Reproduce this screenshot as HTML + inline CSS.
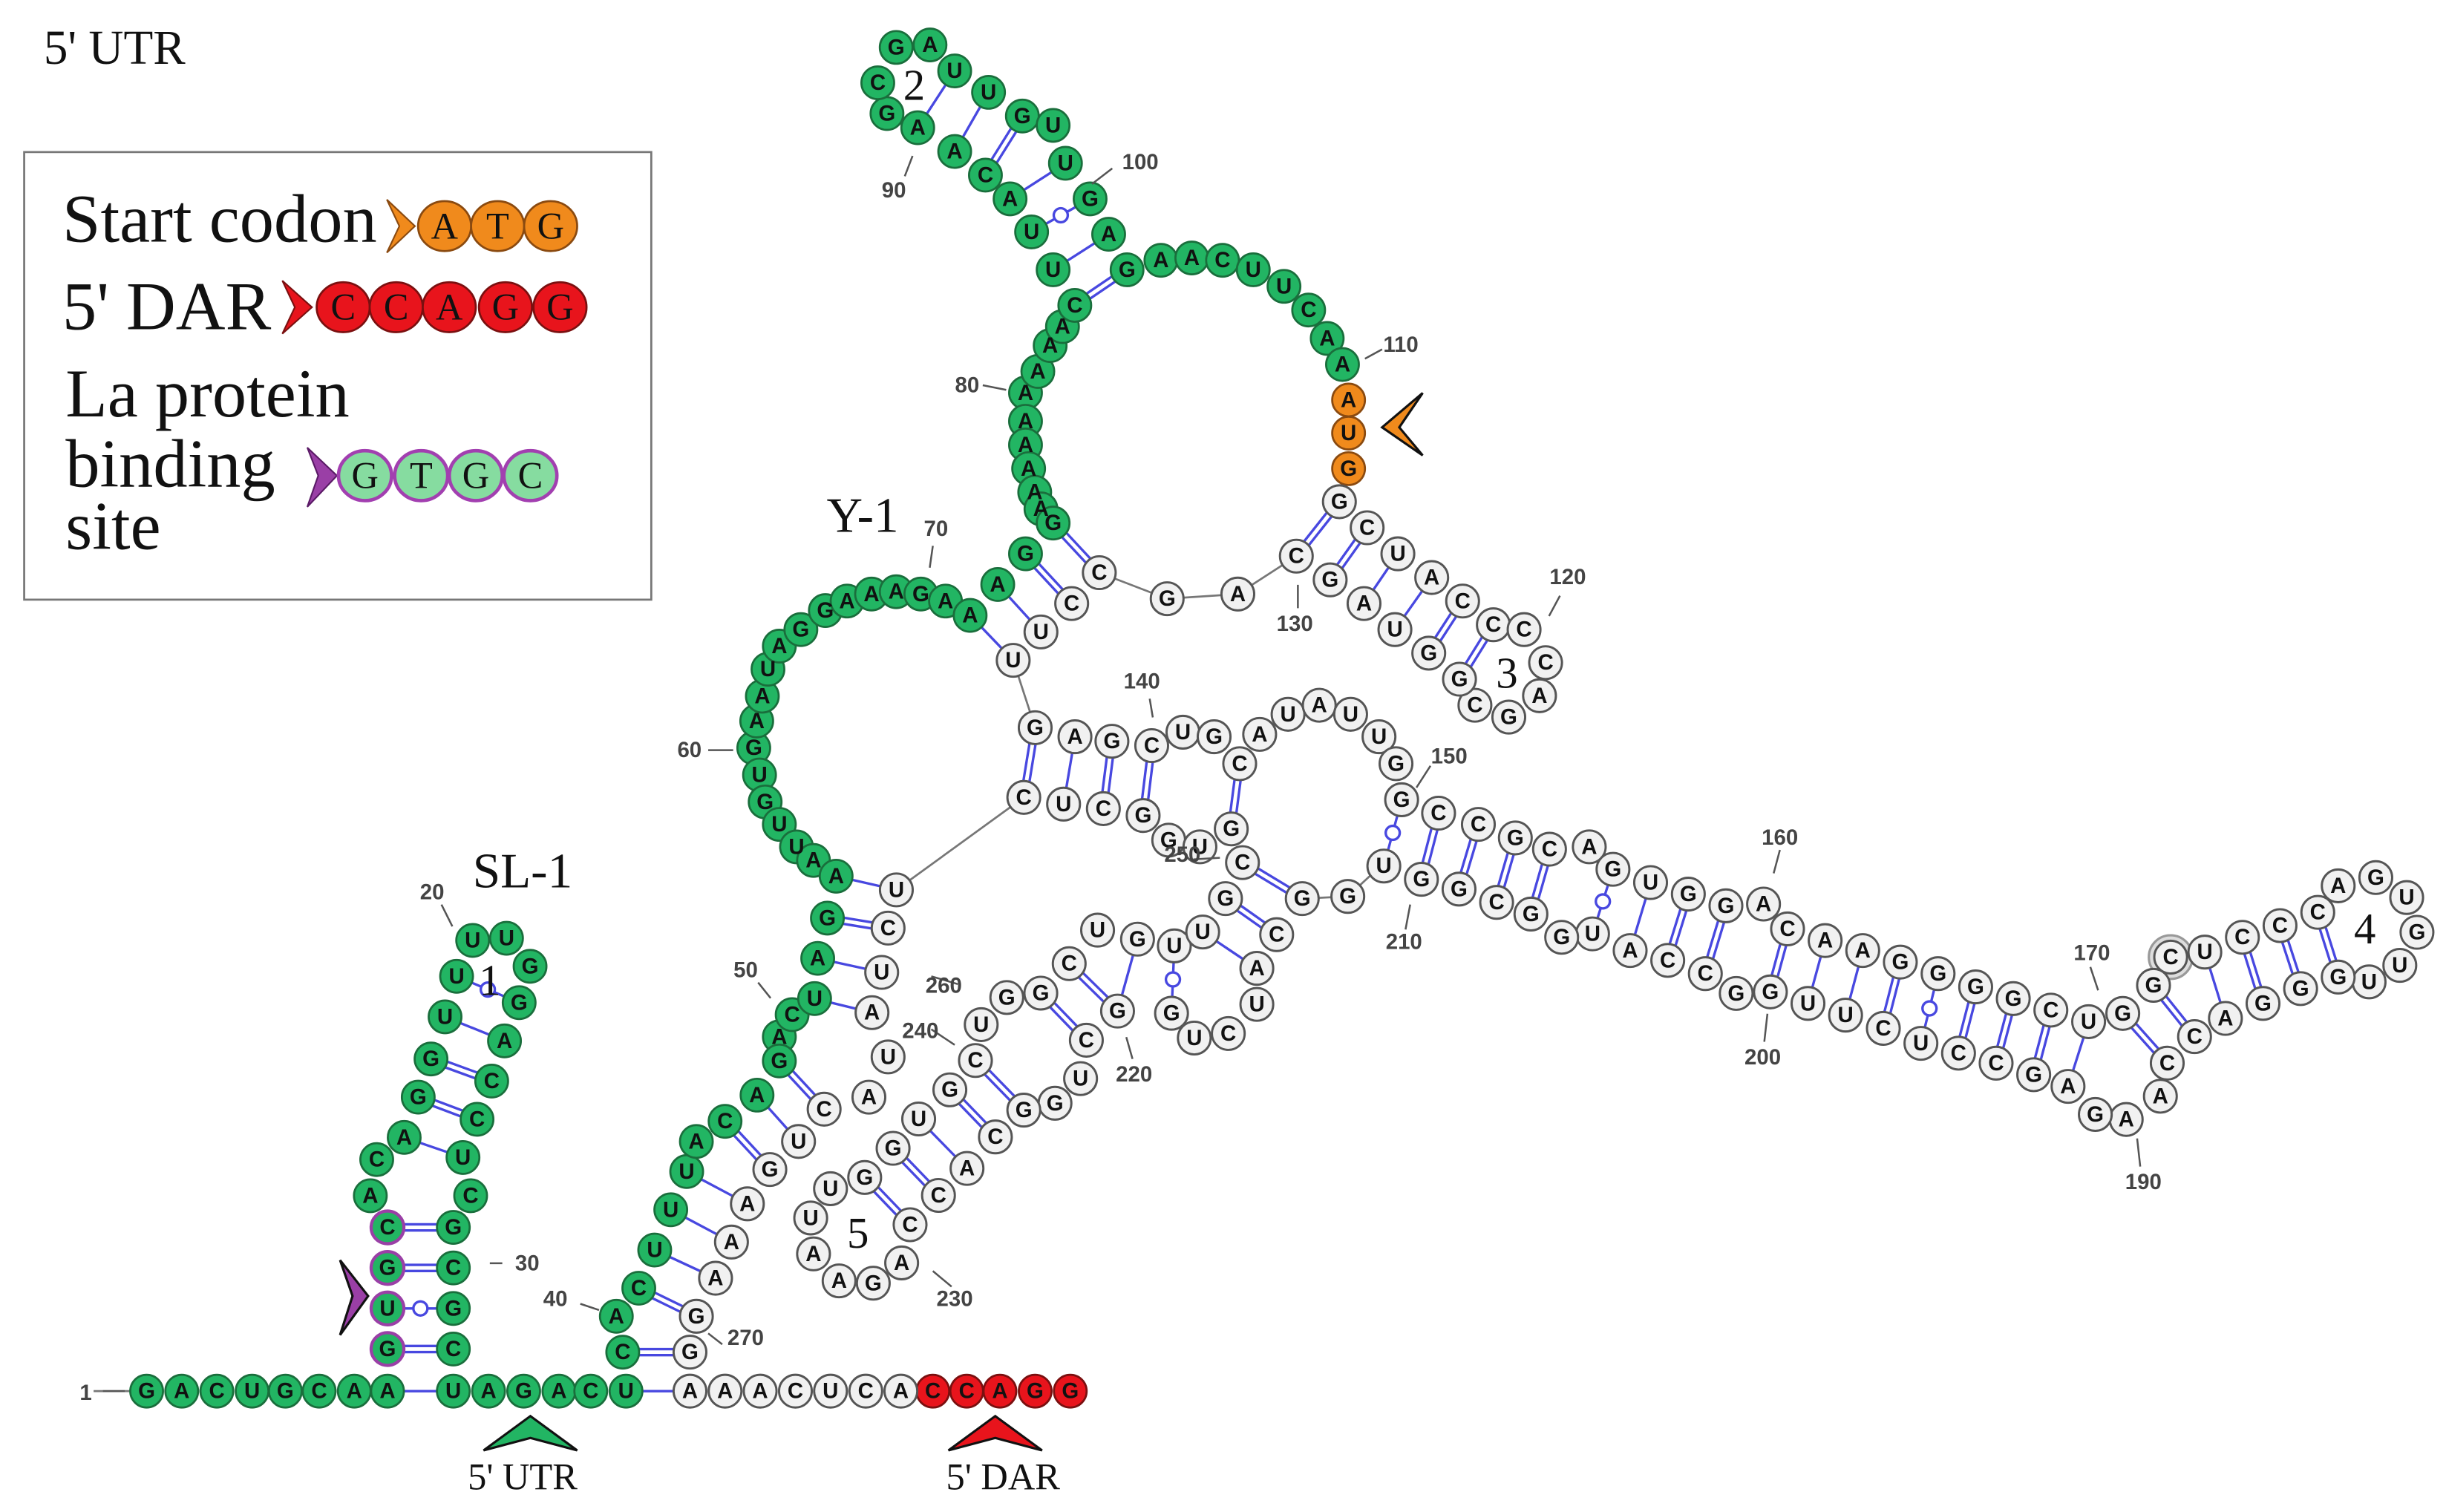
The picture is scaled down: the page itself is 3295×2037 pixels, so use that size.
<!DOCTYPE html>
<html><head><meta charset="utf-8"><style>
html,body{margin:0;padding:0;background:#fff}
svg{display:block}
.g circle,.g ellipse{fill:#22b563;stroke:#1a6e3c;stroke-width:1.3}
.w circle{fill:#f1f1f1;stroke:#555;stroke-width:1.4}
.o circle,.o ellipse{fill:#f08a1c;stroke:#8a4a10;stroke-width:1.3}
.r circle,.r ellipse{fill:#e8141c;stroke:#7a1010;stroke-width:1.3}
.p circle{fill:#22b563;stroke:#9a3fa6;stroke-width:2}
.lp ellipse{fill:#86dca0;stroke:#a23fb0;stroke-width:2.2}
.t text{font-family:"Liberation Sans",Arial,sans-serif;font-weight:bold;font-size:14px;text-anchor:middle;dominant-baseline:central;fill:#111}
.n text{font-family:"Liberation Sans",Arial,sans-serif;font-weight:bold;font-size:14px;text-anchor:middle;dominant-baseline:central;fill:#444}
.s text,.big{font-family:"Liberation Serif","Times New Roman",serif;fill:#111}
.pd{stroke:#4848e0;stroke-width:5.5;fill:none}
.pdw{stroke:#fff;stroke-width:2.3;fill:none}
.ps{stroke:#4848e0;stroke-width:1.6;fill:none}
.bb{stroke:#777;stroke-width:1.3;fill:none}
.tk{stroke:#555;stroke-width:1.2;fill:none}
</style></head><body>
<svg width="3295" height="2037" viewBox="0 0 1568 969.5" preserveAspectRatio="none" xmlns="http://www.w3.org/2000/svg">
<path class="bb" d="M649.5,423.4 L663.6,466.6 M656.3,511.3 L574.6,570.6 M704.7,367.2 L748.2,383.9 L793.5,380.9 L831,356.6 M864,574.8 L885.8,554.6 M834.8,576.2 L864,574.8 M60,892 L84,892"/>
<path class="pd" d="M248.4,787L290.6,787M248.4,813L290.6,813M248.4,865L290.6,865M268.1,703.5L305.8,717.7M276.3,679L315.2,693.2M399.2,867L442.3,867M409.5,826L446.4,844M464.8,719L493.5,749.9M499.6,680.3L528.3,711.2M530.4,588.7L569.3,595.1M675.1,335.4L704.7,367.2M657.4,355.1L687,387M689,195.8L722.5,173M631.7,112.3L655.4,74.4M858.6,321.7L831,356.6M876.4,338.4L852.7,371.8M937.6,385.4L915.9,418.8M957.3,400.6L935.6,435.5M663.6,466.6L656.3,511.3M712.8,475.3L707.3,518.5M738.3,478.1L732.8,522.9M794.7,489.7L789.3,531.5M922.2,521.4L911.2,563.8M947.7,528.6L935.3,570.1M971.4,537.3L959.4,578.6M993.3,544.5L981.4,586.1M1082.3,573.3L1069.1,615.8M1106.4,580.8L1093.2,624.3M1145.9,595.6L1134.9,636M1218.2,616.9L1207.3,659.4M1266.5,632.8L1255.5,675.3M1290.6,640.3L1279.6,681.7M1314.7,647.7L1303.7,689.1M1360.8,649.8L1389.3,681.7M1380.5,631.8L1406.8,664.7M1437.5,601L1450.7,643.4M1461.6,593.5L1474.8,633.9M1485.8,585L1498.9,626.5M796.5,553.1L834.8,576.2M785.6,576.2L818.4,599.3M667.2,636.8L696.4,667M685.4,617.9L716.4,648.3M625.3,680L656.3,711.8M608.9,698.8L638.1,729M572.5,736.3L601.6,766.5M554.3,755L583.4,785.3"/>
<path class="pdw" d="M248.4,787L290.6,787M248.4,813L290.6,813M248.4,865L290.6,865M268.1,703.5L305.8,717.7M276.3,679L315.2,693.2M399.2,867L442.3,867M409.5,826L446.4,844M464.8,719L493.5,749.9M499.6,680.3L528.3,711.2M530.4,588.7L569.3,595.1M675.1,335.4L704.7,367.2M657.4,355.1L687,387M689,195.8L722.5,173M631.7,112.3L655.4,74.4M858.6,321.7L831,356.6M876.4,338.4L852.7,371.8M937.6,385.4L915.9,418.8M957.3,400.6L935.6,435.5M663.6,466.6L656.3,511.3M712.8,475.3L707.3,518.5M738.3,478.1L732.8,522.9M794.7,489.7L789.3,531.5M922.2,521.4L911.2,563.8M947.7,528.6L935.3,570.1M971.4,537.3L959.4,578.6M993.3,544.5L981.4,586.1M1082.3,573.3L1069.1,615.8M1106.4,580.8L1093.2,624.3M1145.9,595.6L1134.9,636M1218.2,616.9L1207.3,659.4M1266.5,632.8L1255.5,675.3M1290.6,640.3L1279.6,681.7M1314.7,647.7L1303.7,689.1M1360.8,649.8L1389.3,681.7M1380.5,631.8L1406.8,664.7M1437.5,601L1450.7,643.4M1461.6,593.5L1474.8,633.9M1485.8,585L1498.9,626.5M796.5,553.1L834.8,576.2M785.6,576.2L818.4,599.3M667.2,636.8L696.4,667M685.4,617.9L716.4,648.3M625.3,680L656.3,711.8M608.9,698.8L638.1,729M572.5,736.3L601.6,766.5M554.3,755L583.4,785.3"/>
<path class="ps" d="M248.4,892L290.6,892M401.3,892L442.3,892M259.1,729.3L296.8,742.2M285.3,652L323.4,667.4M419.7,801.5L458.7,819.6M430,775.7L468.9,796.4M440.2,751.2L479.1,771.9M485.3,702.2L511.9,731.9M522.2,640.3L559,649.3M524.2,614.5L565.2,623.5M536,561.8L574.6,570.6M639.6,374.8L667.3,405.2M621.9,394.6L649.5,423.4M675.1,173L710.7,150.2M647.5,127.5L683,104.7M612,97.1L633.7,59.2M588.3,81.9L612,45.5M896.1,355.1L874.4,387M917.8,370.3L894.2,403.7M689.1,472.4L681.8,515.6M1058.1,565.9L1045,609.5M1170,603.1L1159,643.4M1194.1,609.5L1183.1,650.9M1338.9,655.1L1325.7,696.6M1413.4,610.5L1426.6,653M771,597.6L805.7,620.9M588.9,717.5L619.9,749.2M729.2,602.2L716.4,648.3
M248.4,839L290.6,839M292.7,626L332.8,642.9M661.3,148.7L698.8,127.5M898.5,512.8L887.1,555.3M1034,557.4L1020.9,598.8M1242.4,624.3L1231.4,669M752.8,606.5L751,649.7"/>
<g fill="#fff" stroke="#4848e0" stroke-width="1.6">
<circle cx="269.5" cy="839" r="4.5"/><circle cx="312.7" cy="634.5" r="4.5"/><circle cx="680" cy="138" r="4.5"/><circle cx="892.8" cy="534" r="4.5"/><circle cx="1027.5" cy="578" r="4.5"/><circle cx="1236.9" cy="646.6" r="4.5"/><circle cx="751.9" cy="628" r="4.5"/>
</g>
<g class="g">
<circle cx="94" cy="892" r="10.5"/><circle cx="116.5" cy="892" r="10.5"/><circle cx="139" cy="892" r="10.5"/><circle cx="161.6" cy="892" r="10.5"/><circle cx="182.9" cy="892" r="10.5"/><circle cx="204.6" cy="892" r="10.5"/><circle cx="227.1" cy="892" r="10.5"/><circle cx="248.4" cy="892" r="10.5"/><circle cx="290.6" cy="892" r="10.5"/><circle cx="313.2" cy="892" r="10.5"/><circle cx="335.7" cy="892" r="10.5"/><circle cx="358.3" cy="892" r="10.5"/><circle cx="378.7" cy="892" r="10.5"/><circle cx="401.3" cy="892" r="10.5"/>
<circle cx="237.4" cy="766.7" r="10.5"/><circle cx="241.5" cy="743.5" r="10.5"/><circle cx="259.1" cy="729.3" r="10.5"/><circle cx="268.1" cy="703.5" r="10.5"/><circle cx="276.3" cy="679" r="10.5"/><circle cx="285.3" cy="652" r="10.5"/><circle cx="292.7" cy="626" r="10.5"/><circle cx="303" cy="603" r="10.5"/><circle cx="324.7" cy="601.6" r="10.5"/><circle cx="339.8" cy="619.6" r="10.5"/><circle cx="332.8" cy="642.9" r="10.5"/><circle cx="323.4" cy="667.4" r="10.5"/><circle cx="315.2" cy="693.2" r="10.5"/><circle cx="305.8" cy="717.7" r="10.5"/><circle cx="296.8" cy="742.2" r="10.5"/><circle cx="301.7" cy="766.7" r="10.5"/><circle cx="290.6" cy="787" r="10.5"/><circle cx="290.6" cy="813" r="10.5"/><circle cx="290.6" cy="839" r="10.5"/><circle cx="290.6" cy="865" r="10.5"/>
<circle cx="399.2" cy="867" r="10.5"/><circle cx="395.1" cy="844" r="10.5"/><circle cx="409.5" cy="826" r="10.5"/><circle cx="419.7" cy="801.5" r="10.5"/><circle cx="430" cy="775.7" r="10.5"/><circle cx="440.2" cy="751.2" r="10.5"/><circle cx="446.4" cy="731.9" r="10.5"/><circle cx="464.8" cy="719" r="10.5"/><circle cx="485.3" cy="702.2" r="10.5"/><circle cx="499.6" cy="664.8" r="10.5"/><circle cx="499.6" cy="680.3" r="10.5"/><circle cx="507.8" cy="650.6" r="10.5"/><circle cx="522.2" cy="640.3" r="10.5"/><circle cx="524.2" cy="614.5" r="10.5"/><circle cx="530.4" cy="588.7" r="10.5"/>
<circle cx="483.2" cy="479.6" r="10.5"/><circle cx="486.9" cy="496.9" r="10.5"/><circle cx="490.5" cy="514.2" r="10.5"/><circle cx="499.6" cy="528.6" r="10.5"/><circle cx="510.6" cy="543" r="10.5"/><circle cx="521.5" cy="551.7" r="10.5"/><circle cx="536" cy="561.8" r="10.5"/>
<circle cx="485.1" cy="462.3" r="10.5"/><circle cx="488.7" cy="446.4" r="10.5"/><circle cx="492.3" cy="429.1" r="10.5"/><circle cx="499.6" cy="414.3" r="10.5"/><circle cx="513.4" cy="403.7" r="10.5"/><circle cx="529.1" cy="391.5" r="10.5"/><circle cx="543" cy="385.4" r="10.5"/><circle cx="558.7" cy="380.9" r="10.5"/><circle cx="574.5" cy="379.4" r="10.5"/><circle cx="590.3" cy="380.9" r="10.5"/><circle cx="606.1" cy="385.4" r="10.5"/><circle cx="621.9" cy="394.6" r="10.5"/><circle cx="639.6" cy="374.8" r="10.5"/><circle cx="657.4" cy="355.1" r="10.5"/>
<circle cx="657.4" cy="251.9" r="10.5"/><circle cx="657.4" cy="270.1" r="10.5"/><circle cx="657.4" cy="285.3" r="10.5"/><circle cx="659.4" cy="300.5" r="10.5"/><circle cx="663.3" cy="315.6" r="10.5"/><circle cx="667.3" cy="326.3" r="10.5"/><circle cx="675.1" cy="335.4" r="10.5"/>
<circle cx="665.3" cy="238.2" r="10.5"/><circle cx="673.2" cy="221.6" r="10.5"/><circle cx="681.1" cy="209.4" r="10.5"/><circle cx="689" cy="195.8" r="10.5"/><circle cx="675.1" cy="173" r="10.5"/><circle cx="661.3" cy="148.7" r="10.5"/><circle cx="647.5" cy="127.5" r="10.5"/><circle cx="631.7" cy="112.3" r="10.5"/><circle cx="612" cy="97.1" r="10.5"/><circle cx="588.3" cy="81.9" r="10.5"/><circle cx="568.6" cy="72.8" r="10.5"/><circle cx="562.7" cy="53.1" r="10.5"/><circle cx="574.5" cy="30.4" r="10.5"/><circle cx="596.2" cy="28.8" r="10.5"/><circle cx="612" cy="45.5" r="10.5"/><circle cx="633.7" cy="59.2" r="10.5"/><circle cx="655.4" cy="74.4" r="10.5"/><circle cx="675.1" cy="80.4" r="10.5"/><circle cx="683" cy="104.7" r="10.5"/><circle cx="698.8" cy="127.5" r="10.5"/><circle cx="710.7" cy="150.2" r="10.5"/><circle cx="722.5" cy="173" r="10.5"/><circle cx="744.2" cy="166.9" r="10.5"/><circle cx="764" cy="165.4" r="10.5"/><circle cx="783.7" cy="166.9" r="10.5"/><circle cx="803.4" cy="173" r="10.5"/><circle cx="823.1" cy="183.6" r="10.5"/><circle cx="838.9" cy="198.8" r="10.5"/><circle cx="850.8" cy="217" r="10.5"/><circle cx="860.6" cy="233.7" r="10.5"/>
</g>
<g class="p"><circle cx="248.4" cy="787" r="10.5"/><circle cx="248.4" cy="813" r="10.5"/><circle cx="248.4" cy="839" r="10.5"/><circle cx="248.4" cy="865" r="10.5"/></g>
<g class="o"><circle cx="864.5" cy="256.5" r="10.5"/><circle cx="864.5" cy="277.7" r="10.5"/><circle cx="864.5" cy="300.5" r="10.5"/></g>
<g class="r"><circle cx="598" cy="892" r="10.5"/><circle cx="619.7" cy="892" r="10.5"/><circle cx="641" cy="892" r="10.5"/><circle cx="663.6" cy="892" r="10.5"/><circle cx="686.1" cy="892" r="10.5"/></g>
<circle cx="1391.5" cy="613.7" r="14" fill="#ddd" stroke="#999" stroke-width="1.5"/>
<g class="w">
<circle cx="442.3" cy="892" r="10.5"/><circle cx="464.8" cy="892" r="10.5"/><circle cx="487.3" cy="892" r="10.5"/><circle cx="509.9" cy="892" r="10.5"/><circle cx="532.4" cy="892" r="10.5"/><circle cx="555" cy="892" r="10.5"/><circle cx="577.5" cy="892" r="10.5"/>
<circle cx="442.3" cy="867" r="10.5"/><circle cx="446.4" cy="844" r="10.5"/><circle cx="458.7" cy="819.6" r="10.5"/><circle cx="468.9" cy="796.4" r="10.5"/><circle cx="479.1" cy="771.9" r="10.5"/><circle cx="493.5" cy="749.9" r="10.5"/><circle cx="511.9" cy="731.9" r="10.5"/><circle cx="528.3" cy="711.2" r="10.5"/><circle cx="557" cy="703.5" r="10.5"/><circle cx="569.3" cy="677.7" r="10.5"/><circle cx="559" cy="649.3" r="10.5"/><circle cx="565.2" cy="623.5" r="10.5"/><circle cx="569.3" cy="595.1" r="10.5"/><circle cx="574.6" cy="570.6" r="10.5"/>
<circle cx="858.6" cy="321.7" r="10.5"/><circle cx="876.4" cy="338.4" r="10.5"/><circle cx="896.1" cy="355.1" r="10.5"/><circle cx="917.8" cy="370.3" r="10.5"/><circle cx="937.6" cy="385.4" r="10.5"/><circle cx="957.3" cy="400.6" r="10.5"/><circle cx="977" cy="403.7" r="10.5"/><circle cx="990.8" cy="424.9" r="10.5"/><circle cx="986.9" cy="446.1" r="10.5"/><circle cx="967.2" cy="459.8" r="10.5"/><circle cx="945.5" cy="452.2" r="10.5"/><circle cx="935.6" cy="435.5" r="10.5"/><circle cx="915.9" cy="418.8" r="10.5"/><circle cx="894.2" cy="403.7" r="10.5"/><circle cx="874.4" cy="387" r="10.5"/><circle cx="852.7" cy="371.8" r="10.5"/><circle cx="831" cy="356.6" r="10.5"/><circle cx="793.5" cy="380.9" r="10.5"/><circle cx="748.2" cy="383.9" r="10.5"/><circle cx="704.7" cy="367.2" r="10.5"/><circle cx="687" cy="387" r="10.5"/><circle cx="667.3" cy="405.2" r="10.5"/><circle cx="649.5" cy="423.4" r="10.5"/>
<circle cx="663.6" cy="466.6" r="10.5"/><circle cx="689.1" cy="472.4" r="10.5"/><circle cx="712.8" cy="475.3" r="10.5"/><circle cx="738.3" cy="478.1" r="10.5"/><circle cx="758.3" cy="469.5" r="10.5"/><circle cx="778.3" cy="472.4" r="10.5"/><circle cx="807.5" cy="470.9" r="10.5"/><circle cx="825.7" cy="458" r="10.5"/><circle cx="845.7" cy="452.2" r="10.5"/><circle cx="865.8" cy="458" r="10.5"/><circle cx="884" cy="472.4" r="10.5"/><circle cx="894.9" cy="489.7" r="10.5"/><circle cx="898.5" cy="512.8" r="10.5"/><circle cx="794.7" cy="489.7" r="10.5"/><circle cx="656.3" cy="511.3" r="10.5"/><circle cx="681.8" cy="515.6" r="10.5"/><circle cx="707.3" cy="518.5" r="10.5"/><circle cx="732.8" cy="522.9" r="10.5"/><circle cx="749.2" cy="538.7" r="10.5"/><circle cx="769.2" cy="543" r="10.5"/><circle cx="789.3" cy="531.5" r="10.5"/><circle cx="796.5" cy="553.1" r="10.5"/><circle cx="834.8" cy="576.2" r="10.5"/><circle cx="864" cy="574.8" r="10.5"/>
<circle cx="922.2" cy="521.4" r="10.5"/><circle cx="947.7" cy="528.6" r="10.5"/><circle cx="971.4" cy="537.3" r="10.5"/><circle cx="993.3" cy="544.5" r="10.5"/><circle cx="1018.8" cy="543" r="10.5"/><circle cx="1034" cy="557.4" r="10.5"/><circle cx="1058.1" cy="565.9" r="10.5"/><circle cx="1082.3" cy="573.3" r="10.5"/><circle cx="1106.4" cy="580.8" r="10.5"/><circle cx="1130.5" cy="579.7" r="10.5"/><circle cx="1145.9" cy="595.6" r="10.5"/><circle cx="1170" cy="603.1" r="10.5"/><circle cx="1194.1" cy="609.5" r="10.5"/><circle cx="1218.2" cy="616.9" r="10.5"/><circle cx="1242.4" cy="624.3" r="10.5"/><circle cx="1266.5" cy="632.8" r="10.5"/><circle cx="1290.6" cy="640.3" r="10.5"/><circle cx="1314.7" cy="647.7" r="10.5"/><circle cx="1338.9" cy="655.1" r="10.5"/><circle cx="1360.8" cy="649.8" r="10.5"/><circle cx="1380.5" cy="631.8" r="10.5"/><circle cx="1391.5" cy="613.7" r="10.5"/><circle cx="1413.4" cy="610.5" r="10.5"/><circle cx="1437.5" cy="601" r="10.5"/><circle cx="1461.6" cy="593.5" r="10.5"/><circle cx="1485.8" cy="585" r="10.5"/><circle cx="1498.9" cy="568" r="10.5"/><circle cx="1523" cy="562.7" r="10.5"/><circle cx="1542.8" cy="575.5" r="10.5"/><circle cx="1549.4" cy="597.8" r="10.5"/><circle cx="1538.4" cy="619" r="10.5"/><circle cx="1518.7" cy="629.6" r="10.5"/><circle cx="1498.9" cy="626.5" r="10.5"/><circle cx="1474.8" cy="633.9" r="10.5"/><circle cx="1450.7" cy="643.4" r="10.5"/><circle cx="1426.6" cy="653" r="10.5"/><circle cx="1406.8" cy="664.7" r="10.5"/><circle cx="1389.3" cy="681.7" r="10.5"/><circle cx="1384.9" cy="702.9" r="10.5"/><circle cx="1363" cy="717.8" r="10.5"/><circle cx="1343.2" cy="714.6" r="10.5"/><circle cx="1325.7" cy="696.6" r="10.5"/><circle cx="1303.7" cy="689.1" r="10.5"/><circle cx="1279.6" cy="681.7" r="10.5"/><circle cx="1255.5" cy="675.3" r="10.5"/><circle cx="1231.4" cy="669" r="10.5"/><circle cx="1207.3" cy="659.4" r="10.5"/><circle cx="1183.1" cy="650.9" r="10.5"/><circle cx="1159" cy="643.4" r="10.5"/><circle cx="1134.9" cy="636" r="10.5"/><circle cx="1113" cy="637" r="10.5"/><circle cx="1093.2" cy="624.3" r="10.5"/><circle cx="1069.1" cy="615.8" r="10.5"/><circle cx="1045" cy="609.5" r="10.5"/><circle cx="1020.9" cy="598.8" r="10.5"/><circle cx="1001.1" cy="601" r="10.5"/><circle cx="981.4" cy="586.1" r="10.5"/><circle cx="959.4" cy="578.6" r="10.5"/><circle cx="935.3" cy="570.1" r="10.5"/><circle cx="911.2" cy="563.8" r="10.5"/><circle cx="887.1" cy="555.3" r="10.5"/>
<circle cx="703.6" cy="596.4" r="10.5"/><circle cx="729.2" cy="602.2" r="10.5"/><circle cx="752.8" cy="606.5" r="10.5"/><circle cx="771" cy="597.6" r="10.5"/><circle cx="785.6" cy="576.2" r="10.5"/><circle cx="818.4" cy="599.3" r="10.5"/><circle cx="805.7" cy="620.9" r="10.5"/><circle cx="805.7" cy="644" r="10.5"/><circle cx="787.4" cy="662.7" r="10.5"/><circle cx="765.6" cy="665.6" r="10.5"/><circle cx="751" cy="649.7" r="10.5"/><circle cx="716.4" cy="648.3" r="10.5"/><circle cx="696.4" cy="667" r="10.5"/><circle cx="692.7" cy="691.6" r="10.5"/><circle cx="676.3" cy="707.4" r="10.5"/><circle cx="656.3" cy="711.8" r="10.5"/><circle cx="638.1" cy="729" r="10.5"/><circle cx="619.9" cy="749.2" r="10.5"/><circle cx="601.6" cy="766.5" r="10.5"/><circle cx="583.4" cy="785.3" r="10.5"/><circle cx="578" cy="809.8" r="10.5"/><circle cx="559.8" cy="822.8" r="10.5"/><circle cx="537.9" cy="821.3" r="10.5"/><circle cx="521.5" cy="804" r="10.5"/><circle cx="519.7" cy="781" r="10.5"/><circle cx="532.4" cy="762.2" r="10.5"/><circle cx="554.3" cy="755" r="10.5"/><circle cx="572.5" cy="736.3" r="10.5"/><circle cx="588.9" cy="717.5" r="10.5"/><circle cx="608.9" cy="698.8" r="10.5"/><circle cx="625.3" cy="680" r="10.5"/><circle cx="629" cy="657" r="10.5"/><circle cx="645.4" cy="639.6" r="10.5"/><circle cx="667.2" cy="636.8" r="10.5"/><circle cx="685.4" cy="617.9" r="10.5"/>
</g>
<g class="t">
<text x="94" y="892">G</text><text x="116.5" y="892">A</text><text x="139" y="892">C</text><text x="161.6" y="892">U</text><text x="182.9" y="892">G</text><text x="204.6" y="892">C</text><text x="227.1" y="892">A</text><text x="248.4" y="892">A</text><text x="290.6" y="892">U</text><text x="313.2" y="892">A</text><text x="335.7" y="892">G</text><text x="358.3" y="892">A</text><text x="378.7" y="892">C</text><text x="401.3" y="892">U</text>
<text x="442.3" y="892">A</text><text x="464.8" y="892">A</text><text x="487.3" y="892">A</text><text x="509.9" y="892">C</text><text x="532.4" y="892">U</text><text x="555" y="892">C</text><text x="577.5" y="892">A</text><text x="598" y="892">C</text><text x="619.7" y="892">C</text><text x="641" y="892">A</text><text x="663.6" y="892">G</text><text x="686.1" y="892">G</text>
<text x="248.4" y="865">G</text><text x="248.4" y="839">U</text><text x="248.4" y="813">G</text><text x="248.4" y="787">C</text>
<text x="237.4" y="766.7">A</text><text x="241.5" y="743.5">C</text><text x="259.1" y="729.3">A</text><text x="268.1" y="703.5">G</text><text x="276.3" y="679">G</text><text x="285.3" y="652">U</text><text x="292.7" y="626">U</text><text x="303" y="603">U</text><text x="324.7" y="601.6">U</text><text x="339.8" y="619.6">G</text><text x="332.8" y="642.9">G</text><text x="323.4" y="667.4">A</text><text x="315.2" y="693.2">C</text><text x="305.8" y="717.7">C</text><text x="296.8" y="742.2">U</text><text x="301.7" y="766.7">C</text><text x="290.6" y="787">G</text><text x="290.6" y="813">C</text><text x="290.6" y="839">G</text><text x="290.6" y="865">C</text>
<text x="399.2" y="867">C</text><text x="395.1" y="844">A</text><text x="409.5" y="826">C</text><text x="419.7" y="801.5">U</text><text x="430" y="775.7">U</text><text x="440.2" y="751.2">U</text><text x="446.4" y="731.9">A</text><text x="464.8" y="719">C</text><text x="485.3" y="702.2">A</text><text x="499.6" y="680.3">G</text><text x="499.6" y="664.8">A</text><text x="507.8" y="650.6">C</text><text x="522.2" y="640.3">U</text><text x="524.2" y="614.5">A</text><text x="530.4" y="588.7">G</text><text x="536" y="561.8">A</text>
<text x="521.5" y="551.7">A</text><text x="510.6" y="543">U</text><text x="499.6" y="528.6">U</text><text x="490.5" y="514.2">G</text><text x="486.9" y="496.9">U</text><text x="483.2" y="479.6">G</text><text x="485.1" y="462.3">A</text><text x="488.7" y="446.4">A</text><text x="492.3" y="429.1">U</text><text x="499.6" y="414.3">A</text><text x="513.4" y="403.7">G</text><text x="529.1" y="391.5">G</text><text x="543" y="385.4">A</text><text x="558.7" y="380.9">A</text><text x="574.5" y="379.4">A</text><text x="590.3" y="380.9">G</text><text x="606.1" y="385.4">A</text><text x="621.9" y="394.6">A</text><text x="639.6" y="374.8">A</text><text x="657.4" y="355.1">G</text>
<text x="675.1" y="335.4">G</text><text x="667.3" y="326.3">A</text><text x="663.3" y="315.6">A</text><text x="659.4" y="300.5">A</text><text x="657.4" y="285.3">A</text><text x="657.4" y="270.1">A</text><text x="657.4" y="251.9">A</text><text x="665.3" y="238.2">A</text><text x="673.2" y="221.6">A</text><text x="681.1" y="209.4">A</text><text x="689" y="195.8">C</text><text x="675.1" y="173">U</text><text x="661.3" y="148.7">U</text><text x="647.5" y="127.5">A</text><text x="631.7" y="112.3">C</text><text x="612" y="97.1">A</text><text x="588.3" y="81.9">A</text><text x="568.6" y="72.8">G</text><text x="562.7" y="53.1">C</text><text x="574.5" y="30.4">G</text><text x="596.2" y="28.8">A</text><text x="612" y="45.5">U</text><text x="633.7" y="59.2">U</text><text x="655.4" y="74.4">G</text><text x="675.1" y="80.4">U</text><text x="683" y="104.7">U</text><text x="698.8" y="127.5">G</text><text x="710.7" y="150.2">A</text><text x="722.5" y="173">G</text><text x="744.2" y="166.9">A</text><text x="764" y="165.4">A</text><text x="783.7" y="166.9">C</text><text x="803.4" y="173">U</text><text x="823.1" y="183.6">U</text><text x="838.9" y="198.8">C</text><text x="850.8" y="217">A</text><text x="860.6" y="233.7">A</text>
<text x="864.5" y="256.5">A</text><text x="864.5" y="277.7">U</text><text x="864.5" y="300.5">G</text>
<text x="442.3" y="867">G</text><text x="446.4" y="844">G</text><text x="458.7" y="819.6">A</text><text x="468.9" y="796.4">A</text><text x="479.1" y="771.9">A</text><text x="493.5" y="749.9">G</text><text x="511.9" y="731.9">U</text><text x="528.3" y="711.2">C</text><text x="557" y="703.5">A</text><text x="569.3" y="677.7">U</text><text x="559" y="649.3">A</text><text x="565.2" y="623.5">U</text><text x="569.3" y="595.1">C</text><text x="574.6" y="570.6">U</text>
<text x="858.6" y="321.7">G</text><text x="876.4" y="338.4">C</text><text x="896.1" y="355.1">U</text><text x="917.8" y="370.3">A</text><text x="937.6" y="385.4">C</text><text x="957.3" y="400.6">C</text><text x="977" y="403.7">C</text><text x="990.8" y="424.9">C</text><text x="986.9" y="446.1">A</text><text x="967.2" y="459.8">G</text><text x="945.5" y="452.2">C</text><text x="935.6" y="435.5">G</text><text x="915.9" y="418.8">G</text><text x="894.2" y="403.7">U</text><text x="874.4" y="387">A</text><text x="852.7" y="371.8">G</text><text x="831" y="356.6">C</text><text x="793.5" y="380.9">A</text><text x="748.2" y="383.9">G</text><text x="704.7" y="367.2">C</text><text x="687" y="387">C</text><text x="667.3" y="405.2">U</text><text x="649.5" y="423.4">U</text>
<text x="663.6" y="466.6">G</text><text x="689.1" y="472.4">A</text><text x="712.8" y="475.3">G</text><text x="738.3" y="478.1">C</text><text x="758.3" y="469.5">U</text><text x="778.3" y="472.4">G</text><text x="807.5" y="470.9">A</text><text x="825.7" y="458">U</text><text x="845.7" y="452.2">A</text><text x="865.8" y="458">U</text><text x="884" y="472.4">U</text><text x="894.9" y="489.7">G</text><text x="898.5" y="512.8">G</text><text x="794.7" y="489.7">C</text><text x="656.3" y="511.3">C</text><text x="681.8" y="515.6">U</text><text x="707.3" y="518.5">C</text><text x="732.8" y="522.9">G</text><text x="749.2" y="538.7">G</text><text x="769.2" y="543">U</text><text x="789.3" y="531.5">G</text><text x="796.5" y="553.1">C</text><text x="834.8" y="576.2">G</text><text x="864" y="574.8">G</text>
<text x="922.2" y="521.4">C</text><text x="947.7" y="528.6">C</text><text x="971.4" y="537.3">G</text><text x="993.3" y="544.5">C</text><text x="1018.8" y="543">A</text><text x="1034" y="557.4">G</text><text x="1058.1" y="565.9">U</text><text x="1082.3" y="573.3">G</text><text x="1106.4" y="580.8">G</text><text x="1130.5" y="579.7">A</text><text x="1145.9" y="595.6">C</text><text x="1170" y="603.1">A</text><text x="1194.1" y="609.5">A</text><text x="1218.2" y="616.9">G</text><text x="1242.4" y="624.3">G</text><text x="1266.5" y="632.8">G</text><text x="1290.6" y="640.3">G</text><text x="1314.7" y="647.7">C</text><text x="1338.9" y="655.1">U</text><text x="1360.8" y="649.8">G</text><text x="1380.5" y="631.8">G</text><text x="1391.5" y="613.7">C</text><text x="1413.4" y="610.5">U</text><text x="1437.5" y="601">C</text><text x="1461.6" y="593.5">C</text><text x="1485.8" y="585">C</text><text x="1498.9" y="568">A</text><text x="1523" y="562.7">G</text><text x="1542.8" y="575.5">U</text><text x="1549.4" y="597.8">G</text><text x="1538.4" y="619">U</text><text x="1518.7" y="629.6">U</text><text x="1498.9" y="626.5">G</text><text x="1474.8" y="633.9">G</text><text x="1450.7" y="643.4">G</text><text x="1426.6" y="653">A</text><text x="1406.8" y="664.7">C</text><text x="1389.3" y="681.7">C</text><text x="1384.9" y="702.9">A</text><text x="1363" y="717.8">A</text><text x="1343.2" y="714.6">G</text><text x="1325.7" y="696.6">A</text><text x="1303.7" y="689.1">G</text><text x="1279.6" y="681.7">C</text><text x="1255.5" y="675.3">C</text><text x="1231.4" y="669">U</text><text x="1207.3" y="659.4">C</text><text x="1183.1" y="650.9">U</text><text x="1159" y="643.4">U</text><text x="1134.9" y="636">G</text><text x="1113" y="637">G</text><text x="1093.2" y="624.3">C</text><text x="1069.1" y="615.8">C</text><text x="1045" y="609.5">A</text><text x="1020.9" y="598.8">U</text><text x="1001.1" y="601">G</text><text x="981.4" y="586.1">G</text><text x="959.4" y="578.6">C</text><text x="935.3" y="570.1">G</text><text x="911.2" y="563.8">G</text><text x="887.1" y="555.3">U</text>
<text x="703.6" y="596.4">U</text><text x="729.2" y="602.2">G</text><text x="752.8" y="606.5">U</text><text x="771" y="597.6">U</text><text x="785.6" y="576.2">G</text><text x="818.4" y="599.3">C</text><text x="805.7" y="620.9">A</text><text x="805.7" y="644">U</text><text x="787.4" y="662.7">C</text><text x="765.6" y="665.6">U</text><text x="751" y="649.7">G</text><text x="716.4" y="648.3">G</text><text x="696.4" y="667">C</text><text x="692.7" y="691.6">U</text><text x="676.3" y="707.4">G</text><text x="656.3" y="711.8">G</text><text x="638.1" y="729">C</text><text x="619.9" y="749.2">A</text><text x="601.6" y="766.5">C</text><text x="583.4" y="785.3">C</text><text x="578" y="809.8">A</text><text x="559.8" y="822.8">G</text><text x="537.9" y="821.3">A</text><text x="521.5" y="804">A</text><text x="519.7" y="781">U</text><text x="532.4" y="762.2">U</text><text x="554.3" y="755">G</text><text x="572.5" y="736.3">G</text><text x="588.9" y="717.5">U</text><text x="608.9" y="698.8">G</text><text x="625.3" y="680">C</text><text x="629" y="657">U</text><text x="645.4" y="639.6">G</text><text x="667.2" y="636.8">G</text><text x="685.4" y="617.9">C</text>
</g>
<path class="tk" d="M66,892L80,892M283,580L290,594M322,810L314,810M372,836L384,840M486,630L494,640M463,862L454,855M454,481L470,481M598,350L596,364M630,247L645,250M580,113L585,100M713,108L700,118M886,224L875,230M1000,382L993,395M832,390L832,375M737,448L739,460M917,491L908,505M765,551L782,550M614,631L597,626M597,660L612,670M726,679L722,665M610,825L598,815M1141,545L1137,560M1340,620L1345,635M1372,748L1370,730M1131,668L1133,650M901,596L904,580"/>
<g class="n">
<text x="55" y="893">1</text><text x="277" y="572">20</text><text x="338" y="810">30</text><text x="356" y="833">40</text><text x="478" y="622">50</text><text x="442" y="481">60</text><text x="600" y="339">70</text><text x="620" y="247">80</text><text x="573" y="122">90</text><text x="731" y="104">100</text><text x="898" y="221">110</text><text x="1005" y="370">120</text><text x="830" y="400">130</text><text x="732" y="437">140</text><text x="929" y="485">150</text><text x="1141" y="537">160</text><text x="1341" y="611">170</text><text x="1374" y="758">190</text><text x="1130" y="678">200</text><text x="900" y="604">210</text><text x="727" y="689">220</text><text x="612" y="833">230</text><text x="590" y="661">240</text><text x="758" y="548">250</text><text x="605" y="632">260</text><text x="478" y="858">270</text>
</g>
<g class="s">
<text x="314" y="638" font-size="28" text-anchor="middle">1</text>
<text x="586" y="64" font-size="28" text-anchor="middle">2</text>
<text x="966" y="441" font-size="28" text-anchor="middle">3</text>
<text x="1516" y="605" font-size="28" text-anchor="middle">4</text>
<text x="550" y="800" font-size="28" text-anchor="middle">5</text>
<text x="335" y="569" font-size="32" text-anchor="middle">SL-1</text>
<text x="553" y="341" font-size="32" text-anchor="middle">Y-1</text>
<text x="28" y="41" font-size="31">5' UTR</text>
<text x="335" y="955" font-size="24" text-anchor="middle">5' UTR</text>
<text x="643" y="955" font-size="24" text-anchor="middle">5' DAR</text>
<text x="40" y="155" font-size="44">Start codon</text>
<text x="40" y="211" font-size="44">5' DAR</text>
<text x="42" y="267" font-size="44">La protein</text>
<text x="42" y="312" font-size="44">binding</text>
<text x="42" y="352" font-size="44">site</text>
</g>
<path d="M310,930 L340,908 L370,930 L340,922 Z" fill="#22b563" stroke="#111" stroke-width="1.5"/>
<path d="M608,930 L638,908 L668,930 L638,922 Z" fill="#e8141c" stroke="#111" stroke-width="1.5"/>
<path d="M218,808 L236,831 L218,856 L226,831 Z" fill="#9a3fa6" stroke="#111" stroke-width="1.5"/>
<path d="M912,252 L886,274 L912,292 L897,274 Z" fill="#f08a1c" stroke="#111" stroke-width="1.5"/>
<rect x="15.5" y="97.5" width="402" height="287" fill="none" stroke="#777" stroke-width="1.3"/>
<path d="M248,128 L266,145 L248,162 L256,145 Z" fill="#f08a1c" stroke="#8a4a10" stroke-width="1"/>
<g class="o"><ellipse cx="285" cy="145" rx="17" ry="16"/><ellipse cx="319" cy="145" rx="17" ry="16"/><ellipse cx="353" cy="145" rx="17" ry="16"/></g>
<path d="M181,180 L200,197 L181,214 L189,197 Z" fill="#e8141c" stroke="#7a1010" stroke-width="1"/>
<g class="r"><ellipse cx="220" cy="197" rx="17" ry="16"/><ellipse cx="254" cy="197" rx="17" ry="16"/><ellipse cx="288" cy="197" rx="17" ry="16"/><ellipse cx="324" cy="197" rx="17" ry="16"/><ellipse cx="359" cy="197" rx="17" ry="16"/></g>
<path d="M197,287 L216,305 L197,325 L204,305 Z" fill="#9a3fa6" stroke="#5a1a66" stroke-width="1"/>
<g class="lp"><ellipse cx="234" cy="305" rx="17" ry="16"/><ellipse cx="270" cy="305" rx="17" ry="16"/><ellipse cx="305" cy="305" rx="17" ry="16"/><ellipse cx="340" cy="305" rx="17" ry="16"/></g>
<g class="s" font-size="24" text-anchor="middle" fill="#333">
<text x="285" y="153" fill="#5a2a00">A</text><text x="319" y="153" fill="#5a2a00">T</text><text x="353" y="153" fill="#5a2a00">G</text>
<text x="220" y="205" fill="#4a0000">C</text><text x="254" y="205" fill="#4a0000">C</text><text x="288" y="205" fill="#4a0000">A</text><text x="324" y="205" fill="#4a0000">G</text><text x="359" y="205" fill="#4a0000">G</text>
<text x="234" y="313">G</text><text x="270" y="313">T</text><text x="305" y="313">G</text><text x="340" y="313">C</text>
</g>
</svg>
</body></html>
